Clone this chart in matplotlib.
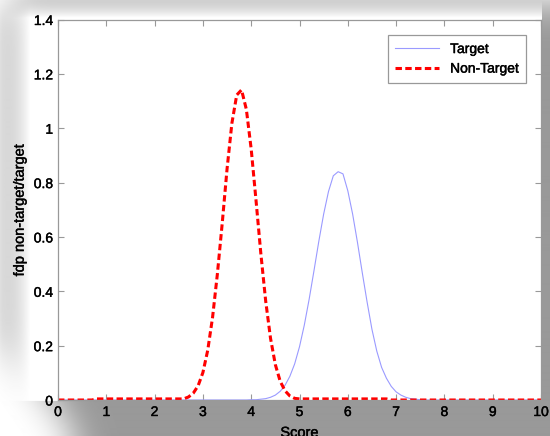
import numpy as np
import matplotlib
matplotlib.use("Agg")
import matplotlib.pyplot as plt
import matplotlib.patheffects as pe

# score grid 0..10, step 0.1
score = np.linspace(0, 10, 101)

target = np.zeros(101)
target[40:76] = [0.001, 0.001, 0.003, 0.005, 0.010, 0.018, 0.032, 0.054, 0.087, 0.133,
                 0.196, 0.276, 0.371, 0.476, 0.584, 0.684, 0.767, 0.825, 0.840, 0.832,
                 0.770, 0.684, 0.580, 0.468, 0.360, 0.260, 0.180, 0.120, 0.080, 0.050,
                 0.030, 0.018, 0.010, 0.005, 0.003, 0.001]

non_target = np.zeros(101)
non_target[8:26] = 0.004
non_target[26:51] = [0.004, 0.011, 0.025, 0.052, 0.101, 0.183, 0.304, 0.464, 0.650, 0.850,
                     1.018, 1.122, 1.141, 1.069, 0.923, 0.734, 0.538, 0.364, 0.227, 0.130,
                     0.069, 0.034, 0.015, 0.006, 0.004]
non_target[51:69] = 0.004

W, H = 550, 436
fig = plt.figure(figsize=(5.5, 4.36), dpi=100)
fig.patch.set_facecolor("white")

# soft drop shadow behind the plot (screenshot effect)
def blur1d(a, sigma, axis):
    r = int(3 * sigma)
    k = np.exp(-np.arange(-r, r + 1) ** 2 / (2 * sigma ** 2))
    k /= k.sum()
    return np.apply_along_axis(lambda v: np.convolve(np.pad(v, r, mode="edge"), k, mode="valid"), axis, a)

yy, xx = np.mgrid[0:H, 0:W]
left_edge = 8 + np.clip(yy - 340, 0, None) * 0.7
rect = ((xx > left_edge) & (yy > 2) & (yy < 445)).astype(float)
shade = blur1d(blur1d(rect, 18, 1), 18, 0)
img = 1 - 0.4 * shade
left_ramp = np.clip((xx - 2) / 28.0, 0, 1)
top_ramp = np.clip((yy - 1) / 17.0, 0, 1)
win = left_ramp * top_ramp * ((xx <= 541) & (yy <= 400))
img = img * (1 - win) + win

bg = fig.add_axes([0, 0, 1, 1], zorder=-1)
bg.imshow(img, cmap="gray", vmin=0, vmax=1, aspect="auto", interpolation="bilinear")
bg.axis("off")

ax = fig.add_axes([58 / W, 1 - 400 / H, (541 - 58) / W, (400 - 19.5) / H])
ax.set_facecolor("white")

ax.plot(score, target, color="#9a9aff", lw=0.8, label="Target")
ax.plot(score, non_target, color="red", lw=2.2, linestyle=(0, (2.1, 1.1)), label="Non-Target")

ax.set_xlim(0, 10)
ax.set_ylim(0, 1.4)
ax.set_xticks(range(0, 11))
ax.set_yticks([0, 0.2, 0.4, 0.6, 0.8, 1, 1.2, 1.4])
ax.set_yticklabels(["0", "0.2", "0.4", "0.6", "0.8", "1", "1.2", "1.4"])

font = "Liberation Sans"
bold = [pe.withStroke(linewidth=0.3, foreground="black")]
for s in ax.spines.values():
    s.set_color("#999999")
    s.set_linewidth(0.9)
ax.tick_params(direction="in", length=4, width=0.8, color="#999999",
               top=True, right=True, labelsize=10, pad=3.6)
for lab in ax.get_xticklabels() + ax.get_yticklabels():
    lab.set_fontfamily(font)
    lab.set_path_effects(bold)

ax.set_xlabel("Score", fontsize=10.5, fontfamily=font, labelpad=5, path_effects=bold)
ax.set_ylabel("fdp non-target/target", fontsize=10.5, fontfamily=font, labelpad=5, path_effects=bold)

leg = ax.legend(loc="upper right", bbox_to_anchor=(0.969, 0.959), borderaxespad=0,
                fancybox=False, framealpha=1, edgecolor="#999999", handlelength=3.2,
                prop={"family": font, "size": 10}, borderpad=0.5, labelspacing=0.4)
leg.get_frame().set_linewidth(0.9)
for t in leg.get_texts():
    t.set_path_effects(bold)

fig.savefig("out.png", dpi=100)
